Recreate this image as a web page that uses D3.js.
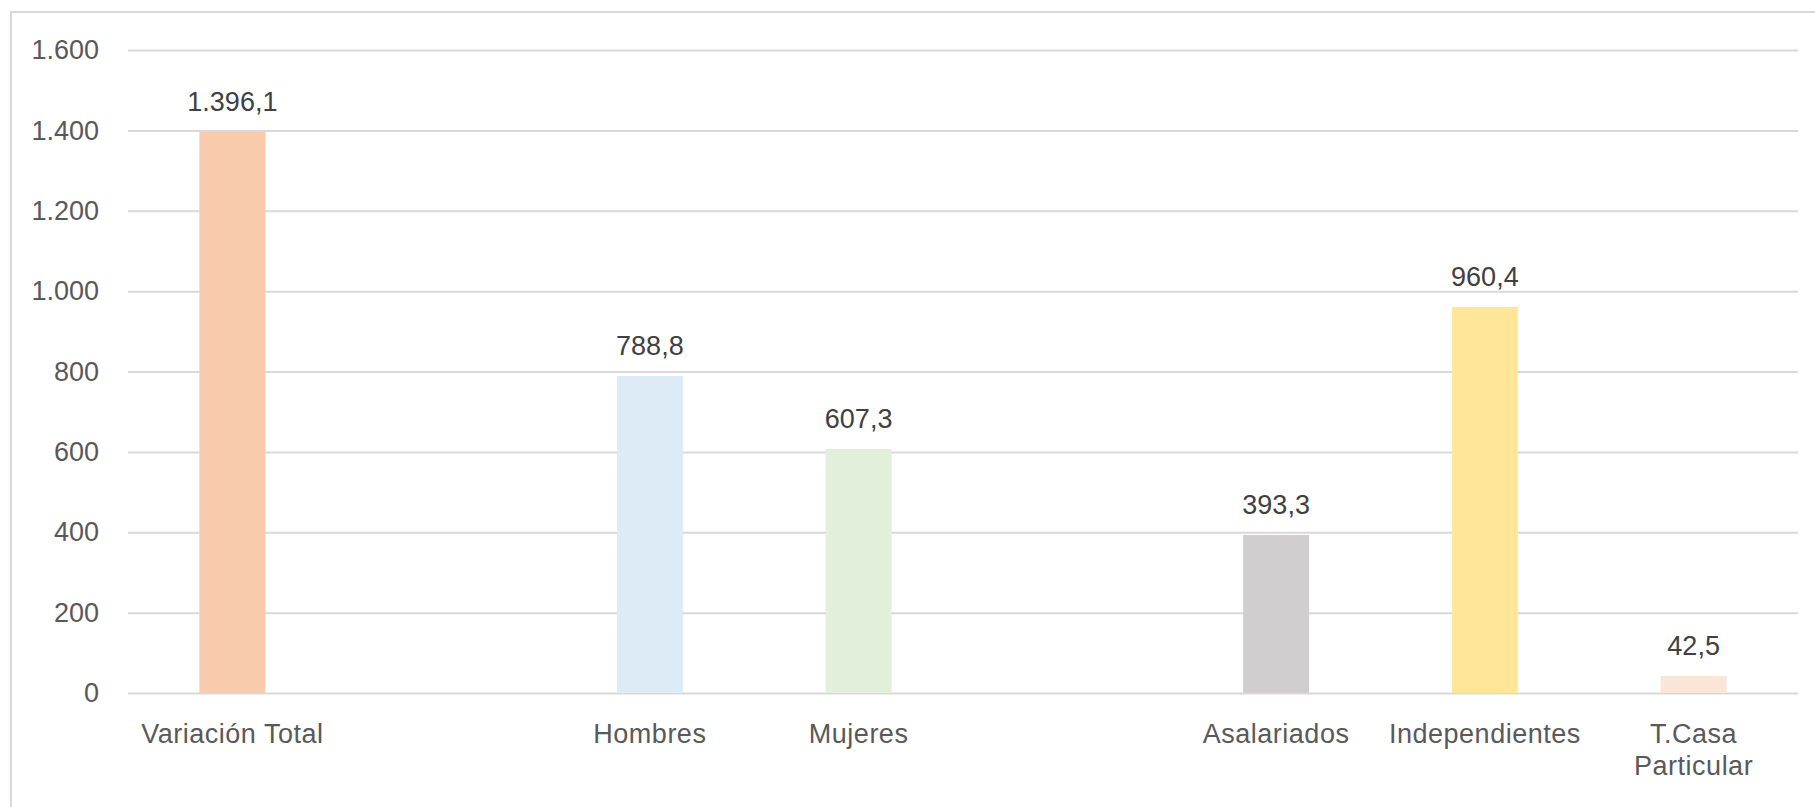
<!DOCTYPE html>
<html><head><meta charset="utf-8">
<script src="https://cdn.jsdelivr.net/npm/d3@7"></script>
<style>body{margin:0;background:#fff;}svg{display:block;}</style>
</head><body>
<script>
const categories = ["Variación Total", "", "Hombres", "Mujeres", "", "Asalariados", "Independientes", "T.Casa Particular"];
const values = [1396.1, null, 788.8, 607.3, null, 393.3, 960.4, 42.5];
const labels = ["1.396,1", "", "788,8", "607,3", "", "393,3", "960,4", "42,5"];
const colors = ["#F8CBAD", null, "#DDEBF7", "#E2EFDA", null, "#D0CECE", "#FFE699", "#FBE5D6"];
const tickValues = [0, 200, 400, 600, 800, 1000, 1200, 1400, 1600];
const tickLabels = ["0", "200", "400", "600", "800", "1.000", "1.200", "1.400", "1.600"];

(function () {
const W = 1815, H = 807;
const svg = d3.select("body").append("svg").attr("width", W).attr("height", H);
const font = "'Liberation Sans', Arial, sans-serif";

svg.append("rect").attr("x", 11).attr("y", 12).attr("width", W + 10).attr("height", H + 10)
  .attr("fill", "none").attr("stroke", "#d9d9d9").attr("stroke-width", 2);

const pL = 128, pR = 1798, pT = 50, pB = 693;
const x = d3.scaleBand().domain(d3.range(categories.length)).range([pL, pR]).paddingInner(0.684).paddingOuter(0.342);
const y = d3.scaleLinear().domain([0, 1600]).range([pB, pT]);

const yAxis = svg.append("g").attr("transform", `translate(${pL},0)`)
  .call(d3.axisLeft(y).tickValues(tickValues).tickSize(-(pR - pL)).tickPadding(29)
    .tickFormat((d, i) => tickLabels[i]));
yAxis.select(".domain").remove();
yAxis.selectAll(".tick line").attr("stroke", "#d9d9d9").attr("stroke-width", 2);
yAxis.selectAll(".tick text").attr("fill", "#595959").style("font-family", font).style("font-size", "27px");

const data = categories.map((c, i) => ({c, i, v: values[i], l: labels[i], col: colors[i]})).filter(d => d.v != null);

svg.append("g").selectAll("rect").data(data).join("rect")
  .attr("x", d => x(d.i)).attr("width", x.bandwidth())
  .attr("y", d => y(d.v)).attr("height", d => y(0) - y(d.v))
  .attr("fill", d => d.col);

svg.append("g").selectAll("text").data(data).join("text")
  .attr("x", d => x(d.i) + x.bandwidth() / 2).attr("y", d => y(d.v) - 21)
  .attr("text-anchor", "middle").attr("fill", "#404040")
  .style("font-family", font).style("font-size", "27px").text(d => d.l);

const catG = svg.append("g");
data.forEach(d => {
  const cx = x(d.i) + x.bandwidth() / 2;
  let lines = [d.c];
  if (d.c === "T.Casa Particular") lines = ["T.Casa", "Particular"];
  lines.forEach((ln, k) => {
    catG.append("text").attr("x", cx).attr("y", 743 + k * 32)
      .attr("text-anchor", "middle").attr("fill", "#595959")
      .style("font-family", font).style("font-size", "27px").style("letter-spacing", "0.5px")
      .text(ln);
  });
});
})();
</script>
</body></html>
